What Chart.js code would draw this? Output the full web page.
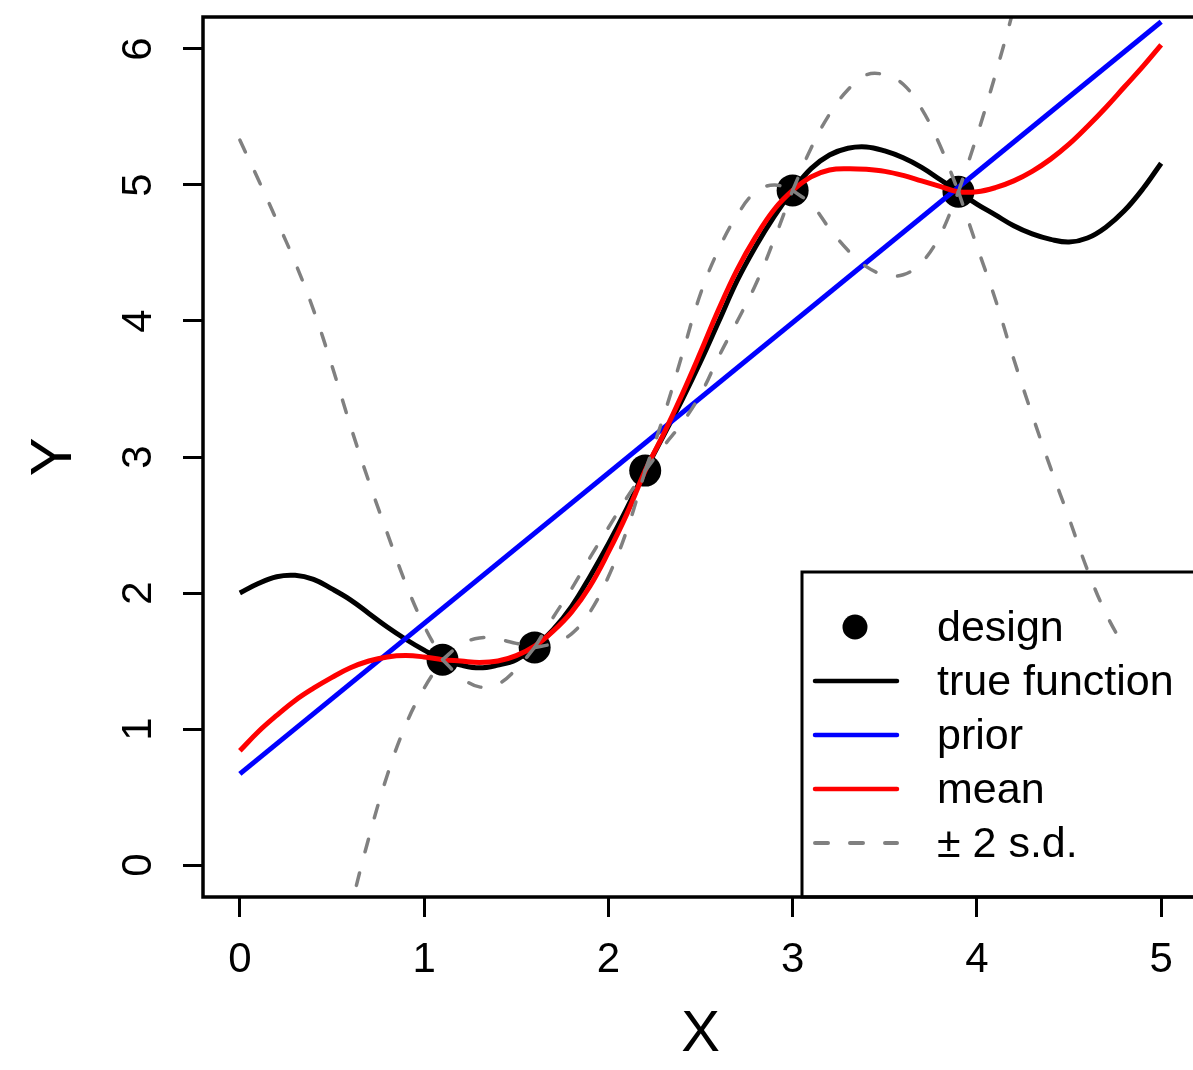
<!DOCTYPE html>
<html>
<head>
<meta charset="utf-8">
<title>GP emulator</title>
<script src="https://cdn.jsdelivr.net/npm/chart.js@4.4.1/dist/chart.umd.min.js"></script>
<style>
  html, body { margin: 0; padding: 0; background: #fff; overflow: hidden; }
  #wrap { width: 1200px; height: 1070px; }
</style>
</head>
<body>
<div id="wrap"><canvas id="gp" width="1200" height="1070"></canvas></div>
<script>
// x grid shared by the smooth curves (step 0.1)
const xGrid = [0, 0.1, 0.2, 0.3, 0.4, 0.5, 0.6, 0.7, 0.8, 0.9,
  1, 1.1, 1.2, 1.3, 1.4, 1.5, 1.6, 1.7, 1.8, 1.9,
  2, 2.1, 2.2, 2.3, 2.4, 2.5, 2.6, 2.7, 2.8, 2.9,
  3, 3.1, 3.2, 3.3, 3.4, 3.5, 3.6, 3.7, 3.8, 3.9,
  4, 4.1, 4.2, 4.3, 4.4, 4.5, 4.6, 4.7, 4.8, 4.9, 5];

const trueFn = [2.00, 2.07, 2.12, 2.13, 2.10, 2.03, 1.95, 1.85, 1.75, 1.66,
  1.58, 1.51, 1.47, 1.45, 1.47, 1.51, 1.60, 1.73, 1.90, 2.12,
  2.36, 2.62, 2.90, 3.16, 3.42, 3.70, 4.00, 4.30, 4.55, 4.77,
  4.96, 5.12, 5.22, 5.27, 5.28, 5.25, 5.20, 5.13, 5.04, 4.95,
  4.86, 4.78, 4.70, 4.64, 4.60, 4.58, 4.61, 4.69, 4.81, 4.97, 5.16];

const postMean = [0.84, 0.98, 1.10, 1.21, 1.30, 1.38, 1.45, 1.50, 1.53, 1.54,
  1.53, 1.51, 1.50, 1.49, 1.50, 1.54, 1.61, 1.72, 1.86, 2.05,
  2.30, 2.58, 2.90, 3.17, 3.46, 3.77, 4.09, 4.38, 4.62, 4.82,
  4.96, 5.06, 5.11, 5.12, 5.115, 5.10, 5.07, 5.03, 4.99, 4.95,
  4.95, 4.98, 5.03, 5.10, 5.19, 5.30, 5.43, 5.57, 5.72, 5.87, 6.03];

const upperBand = [5.33, 5.04, 4.74, 4.43, 4.08, 3.67, 3.23, 2.82, 2.44, 2.07,
  1.76, 1.51, 1.62, 1.67, 1.66, 1.63, 1.60, 1.82, 2.03, 2.26,
  2.48, 2.70, 2.90, 3.30, 3.75, 4.20, 4.53, 4.78, 4.95, 5.00,
  4.96, 5.27, 5.52, 5.70, 5.81, 5.81, 5.74, 5.56, 5.29, 4.95,
  5.36, 5.81, 6.30, 6.85, 7.44, 8.03, 8.69, 9.29, 9.84, 10.39, 10.94];

// lower curve is only visible up to about x = 4.8 in the picture
const lowerBand = [-3.65, -3.10, -2.58, -2.03, -1.50, -0.91, -0.33, 0.20, 0.66, 1.03,
  1.30, 1.51, 1.38, 1.31, 1.33, 1.44, 1.60, 1.63, 1.70, 1.86,
  2.12, 2.46, 2.90, 3.08, 3.25, 3.46, 3.74, 4.00, 4.27, 4.60,
  4.96, 4.86, 4.68, 4.52, 4.40, 4.34, 4.34, 4.43, 4.63, 4.95,
  4.55, 4.16, 3.72, 3.31, 2.92, 2.55, 2.17, 1.85, 1.60];

const priorX = [0, 5];
const priorY = [0.67, 6.20];

const designX = [1.1, 1.6, 2.2, 3.0, 3.9];
const designY = [1.51, 1.60, 2.90, 4.96, 4.95];

const xTicks = [0, 1, 2, 3, 4, 5];
const yTicks = [0, 1, 2, 3, 4, 5, 6];

const legendLabels = ['design', 'true function', 'prior', 'mean', '\u00b1 2 s.d.'];

const FONT = "'Liberation Sans', Arial, Helvetica, sans-serif";
const GREY = '#808080';
const DASH = [13, 22];
const LW = 5;

const toPts = (xs, ys) => ys.map((y, i) => ({ x: xs[i], y: y }));

// the +/- 2 s.d. curves pinch at every design point, so split them there
// and draw each piece separately (keeps the cusps sharp)
const cutIdx = [0].concat(designX.map(d => xGrid.findIndex(x => Math.abs(x - d) < 1e-9)), [xGrid.length - 1]);
const bandSets = [];
[upperBand, lowerBand].forEach(band => {
  for (let k = 0; k < cutIdx.length - 1; k++) {
    const a = cutIdx[k], b = Math.min(cutIdx[k + 1], band.length - 1);
    bandSets.push({
      data: toPts(xGrid.slice(a, b + 1), band.slice(a, b + 1)),
      showLine: true, borderColor: GREY, borderWidth: 3.5,
      borderDash: DASH, borderCapStyle: 'round',
      pointRadius: 0, tension: 0.4, order: 1
    });
  }
});

const datasets = [
  {
    label: 'design', data: toPts(designX, designY),
    pointRadius: 16, pointBackgroundColor: '#000', pointBorderWidth: 0,
    showLine: false, order: 10
  },
  {
    label: 'true function', data: toPts(xGrid, trueFn), showLine: true,
    borderColor: '#000', borderWidth: LW, pointRadius: 0, tension: 0.4, order: 4
  },
  {
    label: 'prior', data: toPts(priorX, priorY), showLine: true,
    borderColor: '#0000ff', borderWidth: LW, pointRadius: 0, order: 3
  },
  {
    label: 'mean', data: toPts(xGrid, postMean), showLine: true,
    borderColor: '#ff0000', borderWidth: LW, pointRadius: 0, tension: 0.4, order: 2
  }
].concat(bandSets);

// box round the plotting region, like R's box()
const framePlugin = {
  id: 'frame',
  afterDatasetsDraw(chart) {
    const { ctx, chartArea: a } = chart;
    ctx.save();
    ctx.strokeStyle = '#000';
    ctx.lineWidth = 3.5;
    ctx.strokeRect(a.left, a.top, a.right - a.left, a.bottom - a.top);
    ctx.restore();
  }
};

// legend in the bottom-right corner, transparent fill
const legendPlugin = {
  id: 'rlegend',
  afterDraw(chart) {
    const { ctx, chartArea: a } = chart;
    const boxL = a.right - 396, boxT = a.bottom - 325;
    ctx.save();
    ctx.strokeStyle = '#000';
    ctx.lineWidth = 3;
    ctx.strokeRect(boxL, boxT, a.right - boxL, a.bottom - boxT);

    const styles = [
      { dot: true },
      { color: '#000' },
      { color: '#0000ff' },
      { color: '#ff0000' },
      { color: GREY, dash: DASH, width: 4 }
    ];
    ctx.font = '43px ' + FONT;
    ctx.textBaseline = 'middle';
    ctx.textAlign = 'left';
    legendLabels.forEach((txt, i) => {
      const y = boxT + 55 + i * 54;
      const s = styles[i];
      if (s.dot) {
        ctx.fillStyle = '#000';
        ctx.beginPath();
        ctx.arc(boxL + 53, y, 12.5, 0, Math.PI * 2);
        ctx.fill();
      } else {
        ctx.strokeStyle = s.color;
        ctx.lineWidth = s.width || 4.5;
        ctx.lineCap = 'round';
        ctx.setLineDash(s.dash || []);
        ctx.beginPath();
        ctx.moveTo(boxL + 13, y);
        ctx.lineTo(boxL + 95, y);
        ctx.stroke();
        ctx.setLineDash([]);
      }
      ctx.fillStyle = '#000';
      ctx.fillText(txt, boxL + 135, y + 2);
    });
    ctx.restore();
  }
};

const tickFont = { family: FONT, size: 42 };
const titleFont = { family: FONT, size: 58 };

// no extra room for half-labels at the scale ends
const noPad = s => { s.paddingTop = 0; s.paddingBottom = 0; s.paddingLeft = 0; s.paddingRight = 0; };

new Chart(document.getElementById('gp'), {
  type: 'scatter',
  data: { datasets: datasets },
  options: {
    responsive: false,
    animation: false,
    layout: { autoPadding: false, padding: { top: 17, right: 2, left: 0, bottom: 0 } },
    elements: { line: { capBezierPoints: false } },
    plugins: { legend: { display: false }, tooltip: { enabled: false } },
    scales: {
      x: {
        type: 'linear', min: -0.2, max: 5.2,
        afterBuildTicks: s => { s.ticks = xTicks.map(v => ({ value: v })); },
        afterFit: s => { s.height = 173; noPad(s); },
        border: { display: false },
        grid: { drawOnChartArea: false, drawTicks: true, tickLength: 20, color: '#000', lineWidth: 3 },
        ticks: { color: '#000', font: tickFont, padding: 18, minRotation: 0, maxRotation: 0, autoSkip: false },
        title: { display: true, text: 'X', color: '#000', font: titleFont, padding: { top: 0, bottom: 0 } }
      },
      y: {
        type: 'linear', min: -0.235, max: 6.235,
        afterBuildTicks: s => { s.ticks = yTicks.map(v => ({ value: v })); },
        afterFit: s => { s.width = 203; noPad(s); },
        border: { display: false },
        grid: { drawOnChartArea: false, drawTicks: true, tickLength: 20, color: '#000', lineWidth: 3 },
        ticks: { color: '#000', font: tickFont, padding: 32, minRotation: 90, maxRotation: 90, crossAlign: 'center', autoSkip: false },
        title: { display: true, text: 'Y', color: '#000', font: titleFont, padding: { top: 20, bottom: 0 } }
      }
    }
  },
  plugins: [framePlugin, legendPlugin]
});
</script>
</body>
</html>
